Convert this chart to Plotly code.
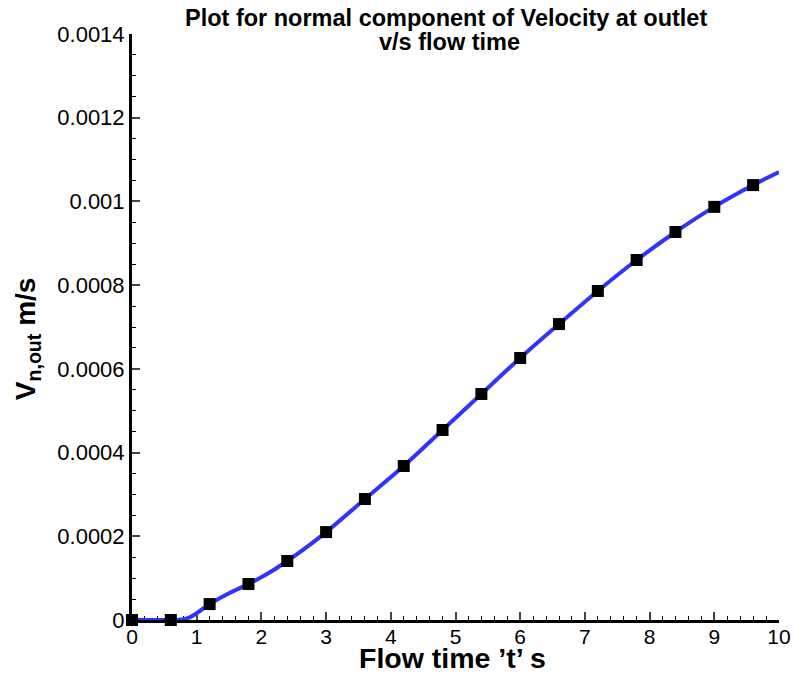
import plotly.graph_objects as go

# marker data
marker_t = [0, 0.6, 1.2, 1.8, 2.4, 3.0, 3.6, 4.2, 4.8, 5.4, 6.0, 6.6, 7.2, 7.8, 8.4, 9.0, 9.6]
marker_v = [0.0, 0.0, 0.000038, 0.000086, 0.000141, 0.000210, 0.000289, 0.000368,
            0.000454, 0.000540, 0.000626, 0.000707, 0.000786, 0.000860, 0.000927,
            0.000987, 0.001039]

# line data
line_t = [0, 0.3, 0.6, 0.8, 0.9, 1.0, 1.2, 1.5, 1.8, 2.1, 2.4, 2.7, 3.0, 3.6, 4.2, 4.8,
          5.4, 6.0, 6.6, 7.2, 7.8, 8.4, 9.0, 9.6, 10.0]
line_v = [0.0, 0.0, 0.0, 0.000002, 0.000007, 0.000016, 0.000038, 0.000064, 0.000086,
          0.000111, 0.000141, 0.000174, 0.000210, 0.000289, 0.000368, 0.000454,
          0.000540, 0.000626, 0.000707, 0.000786, 0.000860, 0.000927, 0.000987,
          0.001039, 0.00107]

x_ticks = list(range(0, 11))
y_tickvals = [0, 0.0002, 0.0004, 0.0006, 0.0008, 0.001, 0.0012, 0.0014]
y_ticktext = ["0", "0.0002", "0.0004", "0.0006", "0.0008", "0.001", "0.0012", "0.0014"]

title_lines = ["Plot for normal component of Velocity at outlet", "v/s flow time"]
x_title = "Flow time \u2019t\u2019 s"
y_title = "V<sub>n,out</sub> m/s"

fig = go.Figure()
fig.add_trace(go.Scatter(x=line_t, y=line_v, mode="lines",
                         line=dict(color="#3333ff", width=4, shape="spline", smoothing=0.8),
                         cliponaxis=False, showlegend=False))
fig.add_trace(go.Scatter(x=marker_t, y=marker_v, mode="markers",
                         marker=dict(symbol="square", size=12, color="black"),
                         cliponaxis=False, showlegend=False))

font_family = "Liberation Sans, Arial, sans-serif"
fig.update_layout(
    width=803, height=675,
    margin=dict(l=132, r=16, t=34, b=55),
    plot_bgcolor="white", paper_bgcolor="white",
    font=dict(family=font_family, color="black", size=22),
    xaxis=dict(range=[0, 10], tickvals=x_ticks, ticks="inside", ticklen=8, tickwidth=2,
               showline=True, linewidth=3, linecolor="black", showgrid=False, zeroline=False,
               tickfont=dict(size=21, family=font_family), layer="below traces",
               ticklabelstandoff=-4,
               minor=dict(dtick=0.2, ticks="inside", ticklen=4, tickwidth=1, tickcolor="black")),
    yaxis=dict(range=[0, 0.0014], tickvals=y_tickvals, ticktext=y_ticktext,
               ticks="inside", ticklen=8, tickwidth=2,
               showline=True, linewidth=3, linecolor="black", showgrid=False, zeroline=False,
               tickfont=dict(size=22, family=font_family), layer="below traces",
               minor=dict(dtick=0.00005, ticks="inside", ticklen=4, tickwidth=1, tickcolor="black")),
    annotations=[
        dict(text="<b>" + title_lines[0] + "</b>", xref="paper", yref="paper",
             x=0.4855, y=1.0273, xanchor="center", yanchor="middle", showarrow=False,
             font=dict(size=23.5, family=font_family)),
        dict(text="<b>" + title_lines[1] + "</b>", xref="paper", yref="paper",
             x=0.490, y=0.9863, xanchor="center", yanchor="middle", showarrow=False,
             font=dict(size=23.5, family=font_family)),
        dict(text="<b>" + x_title + "</b>", xref="paper", yref="paper",
             x=0.496, y=-0.064, xanchor="center", yanchor="middle", showarrow=False,
             font=dict(size=28.5, family=font_family)),
        dict(text="<b>" + y_title + "</b>", xref="paper", yref="paper", textangle=-90,
             x=-0.162, y=0.4795, xanchor="center", yanchor="middle", showarrow=False,
             font=dict(size=28, family=font_family)),
    ],
)
fig.write_html("out.html")
